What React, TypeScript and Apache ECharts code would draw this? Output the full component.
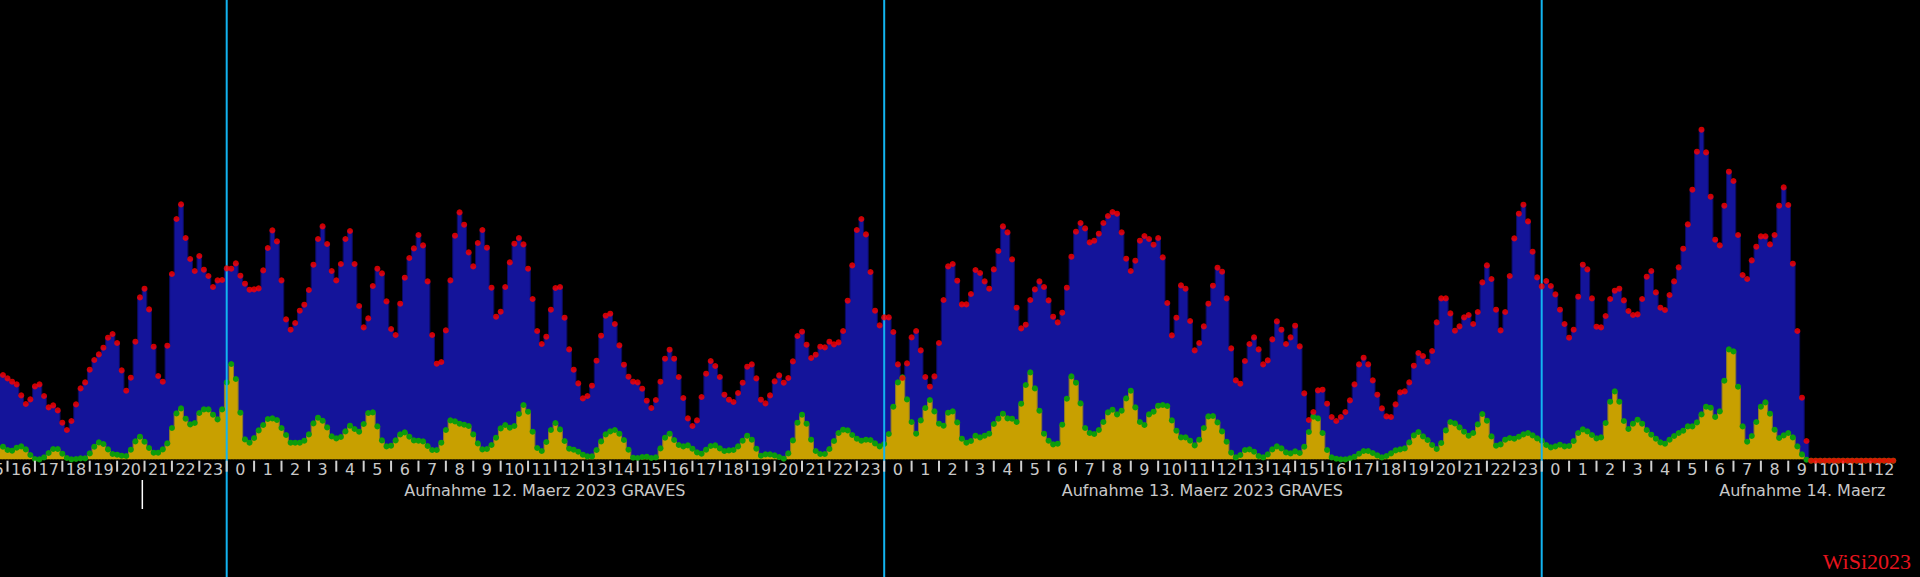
import React, { useEffect, useRef } from "react";
import * as echarts from "echarts";

// Hour labels for every hour slot from 11 March 15:00 to 14 March 13:00
const hourLabels = [
  "15", "16", "17", "18", "19", "20", "21", "22", "23",
  "0", "1", "2", "3", "4", "5", "6", "7", "8", "9", "10", "11", "12", "13", "14", "15", "16", "17", "18", "19", "20", "21", "22", "23",
  "0", "1", "2", "3", "4", "5", "6", "7", "8", "9", "10", "11", "12", "13", "14", "15", "16", "17", "18", "19", "20", "21", "22", "23",
  "0", "1", "2", "3", "4", "5", "6", "7", "8", "9", "10", "11", "12", "",
];
const FIRST_HOUR_SLOT = -9; // hours relative to 12 March 00:00

const dayLabels = [
  "Aufnahme 12. Maerz 2023 GRAVES",
  "Aufnahme 13. Maerz 2023 GRAVES",
  "Aufnahme 14. Maerz",
];
const dayStartHours = [0, 24, 48];
const markerHours = [-3.08];

// 10-minute samples starting 11 March 15:40
const SAMPLE_START_HOUR = -50 / 6;
const SAMPLE_STEP_HOURS = 1 / 6;

const totalCounts = [
  86.7, 85.7, 82.3, 79, 76.3, 65.3, 56.7, 61.3, 74.3, 76.3,
  64.7, 53.3, 55.3, 50.3, 38, 30.7, 39.7, 56.3, 72.3, 78.3,
  91, 100.7, 106.3, 113, 123, 126.7, 117.7, 90.3, 70, 83,
  119, 163.3, 172, 151.3, 114, 84.7, 79, 115, 186.7, 241.7,
  256.3, 222.7, 201.7, 189.7, 204.7, 191, 184.7, 173.7, 180.3, 180.7,
  192.3, 192, 197.3, 185, 177, 171, 171.3, 172.3, 190.3, 212.7,
  230.3, 219.3, 180.3, 141.3, 131, 137.7, 150, 156, 170.7, 196,
  221.7, 234.3, 216.7, 189.7, 180.3, 196.7, 221.7, 229.7, 196.7, 154.7,
  133.3, 142.3, 174.7, 192, 187.3, 159.3, 131.7, 125.7, 157, 183,
  202.7, 212.3, 225.7, 215.3, 179.3, 125.7, 97, 98.7, 130.3, 180.3,
  225, 248.3, 236, 208.3, 194.3, 217.7, 230.7, 213, 173, 144,
  149, 173.7, 198.3, 217, 222.7, 216.3, 192, 161.7, 129.7, 116.7,
  124, 151, 172.7, 173.7, 143, 111.3, 91, 77.3, 62.3, 64.7,
  75, 100, 125, 145, 147, 136.7, 115.3, 96, 84, 79,
  78.3, 72, 60, 52.7, 60.7, 79, 102, 111, 102, 83.7,
  62.7, 42.3, 34.7, 40.3, 63.7, 87, 99.7, 94.7, 83.7, 66,
  61, 58.7, 67.7, 78, 94, 96.3, 82.3, 61, 57.3, 65.3,
  79.3, 85.3, 78, 82.7, 99.3, 124.7, 129, 116, 102.7, 106,
  114, 113.3, 119, 116.3, 118.3, 129.7, 160, 195.3, 230.7, 241.7,
  226.3, 188.7, 150, 135.3, 143.3, 143.3, 128.7, 96.3, 82.7, 97.3,
  123.3, 129.7, 110.3, 83.7, 74, 84.3, 117.7, 160.7, 194.3, 196.7,
  180, 156.3, 156.3, 166.7, 190.7, 187.7, 179.3, 172, 191.3, 209.7,
  234.3, 228.3, 201.3, 153, 132.3, 136, 160.7, 171.3, 179.3, 173.7,
  160.3, 144, 138.3, 148, 173, 204, 229, 237.7, 232.3, 218.3,
  220, 227, 237.7, 244.7, 248.7, 247, 228.3, 202, 189.7, 200,
  220, 224.7, 221.7, 216, 222.7, 203.3, 157.7, 125.3, 143, 175.3,
  172, 139.7, 110.3, 117.7, 134.3, 157, 175, 193, 189, 162.3,
  112.3, 80.3, 77, 99.7, 116.7, 123.3, 111.3, 96.3, 100.3, 121.3,
  139.3, 131, 116.7, 123.3, 135, 114.3, 67.3, 40.7, 48.7, 70.3,
  71, 57, 43.7, 39.7, 43.7, 48.7, 60.3, 76.3, 96.3, 103,
  96.3, 80.3, 66, 52.3, 44.3, 43.7, 56.3, 68.3, 69.3, 78.3,
  95, 107.7, 104.7, 99, 109.7, 138.3, 162.3, 162.3, 147.3, 130,
  134.3, 143.3, 145.7, 136.7, 148.7, 178.3, 195.3, 181.7, 151, 130.3,
  148.7, 184.7, 222.3, 247, 256, 239.3, 209, 183.3, 174.3, 179.7,
  174.7, 166.3, 151, 136.7, 123, 131, 164, 196, 191.3, 162.3,
  134, 133.3, 144.7, 161.7, 170, 172, 160.3, 149.7, 145.7, 146.3,
  161.7, 184, 189.7, 168.3, 153, 150.7, 165.7, 179.3, 193.3, 212,
  236.3, 271, 309, 331, 308.3, 264, 221, 215.3, 255, 289,
  279.7, 225.7, 185.7, 181.7, 200.3, 214, 224.3, 224.3, 216.3, 225.7,
  255, 273.3, 255.7, 197, 129.7, 63, 19.7,
  0, 0, 0, 0, 0, 0, 0, 0, 0, 0, 0, 0, 0, 0, 0, 0, 0, 0, 0,
];

const subsetCounts = [
  14, 14, 10.7, 10, 13, 14.3, 11.3, 5.7, 1.7, 1.3,
  3.3, 7.7, 11.7, 11.7, 7, 2.7, 1.3, 1.7, 2.3, 2.3,
  7.3, 14, 18.3, 16.7, 11.3, 6.7, 6, 5, 4.7, 11,
  19.3, 24, 19, 12.7, 8, 8, 11.3, 17.3, 32.7, 47.3,
  52.3, 42, 36.3, 37.7, 47.7, 51.3, 51.3, 46, 41.3, 51.3,
  78.3, 96.7, 81.7, 48, 21.3, 18, 22.7, 30.3, 35.7, 41.7,
  42.3, 40.7, 32.7, 25.7, 18, 18, 18, 20, 26.3, 37.3,
  43, 40, 33.3, 24.3, 22.3, 23.7, 29.3, 35, 31.7, 29,
  36.7, 47.7, 48.3, 34.3, 20.3, 14.3, 15, 20.3, 26.3, 28.3,
  24, 20.3, 20, 19.3, 14.7, 10.7, 10.7, 18, 30.7, 40.3,
  39.3, 37, 36, 34.7, 26.3, 17.3, 11.3, 11.7, 15.7, 23,
  32.3, 35.7, 33, 34.7, 46.7, 55.7, 49, 29, 12.7, 9.7,
  18.7, 30.7, 37.7, 31.3, 19.7, 12, 11, 9, 6, 4.3,
  4.3, 10.7, 19.3, 26.3, 29.3, 30.7, 27, 20.7, 11, 3,
  2.7, 3.7, 4, 2.7, 3.3, 12.3, 23, 27, 20.7, 15.7,
  14.3, 15.3, 12, 8.3, 7, 11, 14.7, 15.3, 12.3, 9.7,
  10.3, 10.7, 14.3, 20, 25, 21, 12, 5, 6.3, 6.3,
  5.3, 3.7, 2, 7.3, 20.3, 38, 46, 37, 21, 9.7,
  6.7, 6.7, 11.7, 19.7, 27.7, 31, 30.3, 25.7, 22, 20,
  21, 20.7, 17.3, 14.3, 16.7, 26.7, 54, 78.3, 83.3, 61.3,
  38.7, 27, 40.3, 52.7, 60.7, 49.3, 37, 35, 48, 49.3,
  38.3, 22, 18, 19.7, 25, 23.3, 25, 27, 36.7, 42,
  47, 42.3, 42, 38.7, 57, 75.7, 88.3, 72.3, 50, 27,
  20, 16.3, 17, 36, 62, 84.3, 78, 57.3, 32.7, 27.7,
  26.7, 30.7, 38.7, 48.3, 51, 46.3, 50, 62.3, 70, 53.3,
  38.7, 35.7, 46.3, 49, 55, 55.7, 54.7, 40.3, 30, 23.3,
  23.3, 20, 15.3, 21, 32.7, 44.3, 44.7, 38.3, 29.3, 19,
  8, 3.3, 5.7, 10.7, 11.3, 9, 4.7, 3.3, 6.3, 11.3,
  14.3, 12.3, 8.3, 7.3, 9.3, 7.7, 14, 28.7, 44, 42.3,
  27.7, 10.7, 3.3, 2, 1.3, 1.3, 2.3, 4, 7, 9.7,
  9.7, 7.7, 5.3, 3.3, 4.7, 7.3, 10.3, 11.3, 12.3, 18.3,
  25.3, 28.7, 24.3, 20.7, 15.7, 11.7, 17.7, 30.3, 38.7, 37.3,
  33.3, 29, 25, 27.7, 36.3, 46.7, 40, 24.3, 15, 16.3,
  21, 22.7, 22, 24, 26.3, 27.7, 25.3, 22.3, 20, 15.7,
  13.3, 14.3, 16, 14.3, 14.7, 19.7, 27.7, 31.3, 29.3, 25.7,
  22.3, 23.3, 37.7, 59, 69.3, 59, 39.7, 31.7, 37, 41,
  37, 30.7, 26, 22, 18.3, 17, 21, 24.7, 27.7, 30,
  34.3, 34.3, 38.3, 46.3, 54, 53, 43.7, 49.3, 80, 111.3,
  109.3, 74, 34.3, 19, 24.7, 38.7, 54, 58.3, 47, 31,
  22.7, 25.3, 27.7, 23.3, 14.3, 6.3, 1,
  0, 0, 0, 0, 0, 0, 0, 0, 0, 0, 0, 0, 0, 0, 0, 0, 0, 0, 0,
];

const WIDTH = 1920;
const HEIGHT = 577;

export default function App() {
  const ref = useRef<HTMLDivElement>(null);

  useEffect(() => {
    document.body.style.margin = "0";
    document.body.style.background = "#000";
    const el = ref.current;
    if (!el) return;
    const chart = echarts.init(el, null, { renderer: "svg" });

    const hourPx = 657.5 / 24;
    const midnightPx = 226.7;
    const baselinePx = 460.7;
    const xMin = -midnightPx / hourPx;
    const xMax = (WIDTH - midnightPx) / hourPx;

    const toPoints = (arr: number[]) =>
      arr.map((v, i) => [SAMPLE_START_HOUR + i * SAMPLE_STEP_HOURS, v]);

    chart.setOption({
      animation: false,
      backgroundColor: "#000000",
      grid: {
        left: 0,
        right: 0,
        top: 0,
        bottom: HEIGHT - baselinePx,
        containLabel: false,
      },
      xAxis: {
        type: "value",
        min: xMin,
        max: xMax,
        z: 3,
        axisLine: {
          show: true,
          lineStyle: { color: "#000000", width: 2.5, type: [1.5, 1.5] },
        },
        axisTick: { show: false },
        axisLabel: { show: false },
        splitLine: { show: false },
      },
      yAxis: { type: "value", min: 0, max: baselinePx, show: false },
      series: [
        {
          name: "total",
          type: "line",
          data: toPoints(totalCounts),
          step: "middle",
          showSymbol: false,
          lineStyle: { color: "#0b0b62", width: 1 },
          areaStyle: { color: "#14149a", opacity: 1 },
          z: 2,
        },
        {
          name: "subset",
          type: "line",
          data: toPoints(subsetCounts),
          step: "middle",
          symbol: "circle",
          symbolSize: 6,
          showSymbol: true,
          showAllSymbol: true,
          itemStyle: { color: "#0c9c0c" },
          lineStyle: { color: "#8c7a2a", width: 1 },
          areaStyle: { color: "#c8a000", opacity: 1 },
          z: 3,
        },
        {
          name: "dayLines",
          type: "custom",
          clip: false,
          silent: true,
          z: 4,
          data: dayStartHours.map((h) => [h]),
          renderItem: (_params: any, api: any) => {
            const x = api.coord([api.value(0), 0])[0];
            return {
              type: "line",
              shape: { x1: x, y1: 0, x2: x, y2: api.getHeight() },
              style: { stroke: "#12b4f0", lineWidth: 2 },
            };
          },
        },
        {
          name: "totalDots",
          type: "scatter",
          data: toPoints(totalCounts),
          symbol: "circle",
          symbolSize: 6,
          itemStyle: { color: "#ff0000" },
          z: 5,
        },
        {
          name: "hourAxis",
          type: "custom",
          clip: false,
          silent: true,
          z: 4,
          data: hourLabels.map((label, i) => [FIRST_HOUR_SLOT + i, i]),
          renderItem: (_params: any, api: any) => {
            const h = api.value(0);
            const idx = api.value(1);
            const left = api.coord([h, 0]);
            const mid = api.coord([h + 0.5, 0]);
            const children: any[] = [
              {
                type: "text",
                x: mid[0],
                y: mid[1] + 8.8,
                style: {
                  text: hourLabels[idx],
                  fill: "#c8c8c8",
                  font: '16px "DejaVu Sans"',
                  align: "center",
                  verticalAlign: "middle",
                },
              },
            ];
            if (idx < hourLabels.length - 1) {
              children.push({
                type: "line",
                shape: { x1: left[0], y1: left[1], x2: left[0], y2: left[1] + 11 },
                style: { stroke: "#d0d0d0", lineWidth: 2 },
              });
            }
            return { type: "group", children };
          },
        },
        {
          name: "dayLabels",
          type: "custom",
          clip: false,
          silent: true,
          z: 4,
          data: dayStartHours.map((h, i) => [h + 6.48, i]),
          renderItem: (_params: any, api: any) => {
            const p = api.coord([api.value(0), 0]);
            return {
              type: "text",
              x: p[0],
              y: p[1] + 29.5,
              style: {
                text: dayLabels[api.value(1)],
                fill: "#c8c8c8",
                font: '16px "DejaVu Sans"',
                align: "left",
                verticalAlign: "middle",
              },
            };
          },
        },
        {
          name: "marker",
          type: "custom",
          clip: false,
          silent: true,
          z: 4,
          data: markerHours.map((h) => [h]),
          renderItem: (_params: any, api: any) => {
            const p = api.coord([api.value(0), 0]);
            return {
              type: "line",
              shape: { x1: p[0], y1: p[1] + 19.3, x2: p[0], y2: p[1] + 48.3 },
              style: { stroke: "#ffffff", lineWidth: 1.5 },
            };
          },
        },
      ],
      graphic: [
        {
          type: "text",
          x: 1911,
          y: 561,
          style: {
            text: "WiSi2023",
            fill: "#e8141e",
            font: '22px "Liberation Serif"',
            align: "right",
            verticalAlign: "middle",
          },
        },
      ],
    });

    return () => chart.dispose();
  }, []);

  return (
    <div
      ref={ref}
      style={{
        position: "fixed",
        left: 0,
        top: 0,
        width: WIDTH,
        height: HEIGHT,
        background: "#000",
      }}
    />
  );
}
